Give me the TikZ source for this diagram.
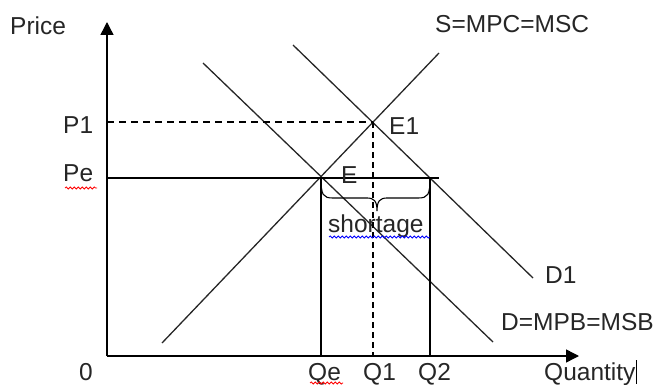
\documentclass[tikz,border=0pt]{standalone}
\usepackage{fontspec}
\setmainfont{Liberation Sans}
\usetikzlibrary{arrows.meta,decorations.pathmorphing}
\begin{document}
\begin{tikzpicture}[x=1pt,y=-1pt,
  curve/.style={line width=1.3pt, draw=black!85},
  axisline/.style={line width=1.4pt, -{Triangle[length=13pt,width=13pt]}},
  guide/.style={line width=1.2pt},
  dashguide/.style={line width=1.1pt, dash pattern=on 7pt off 5pt},
  lbl/.style={inner sep=0pt, anchor=base west, font=\fontsize{24.5}{28}\selectfont, text=black!85},
  squig/.style={line width=0.8pt, decorate, decoration={snake, amplitude=1pt, segment length=4pt}}]
\useasboundingbox (0,0) rectangle (666,385);
% key points
\coordinate (O) at (107,356);
\coordinate (Ytop) at (107,22);
\coordinate (Xend) at (579,356);
\coordinate (E) at (321,178);
\coordinate (E1) at (373,122);
\coordinate (PeL) at (107,178);
\coordinate (PeR) at (439,178);
\coordinate (P1L) at (107,122);
\coordinate (Qe) at (321,356);
\coordinate (Q1) at (373,356);
\coordinate (Q2) at (430,356);
\coordinate (Q2top) at (430,178);
\coordinate (Sa) at (162,343);
\coordinate (Sb) at (439,53);
\coordinate (Da) at (203,63);
\coordinate (Db) at (493,342);
\coordinate (D1a) at (293,45);
\coordinate (D1b) at (533,278);
\coordinate (tip) at (377,211);
% axes
\draw[axisline] (O) -- (Ytop);
\draw[axisline] (O) -- (Xend);
% curves
\draw[curve] (Sa) -- (Sb);
\draw[curve] (Da) -- (Db);
\draw[curve] (D1a) -- (D1b);
% guides
\draw[guide] (PeL) -- (PeR);
\draw[dashguide] (P1L) -- (E1);
\draw[line width=1.1pt, dash pattern=on 6pt off 4pt] (E1) -- (Q1);
\draw[guide] (E) -- (Qe);
\draw[guide] (Q2top) -- (Q2);
% brace
\draw[line width=1.1pt] (E) .. controls (321,195) and (323,198) .. (333,198) -- (367,198)
  .. controls (374,198) and (377,201) .. (tip)
  .. controls (377,201) and (380,198) .. (387,198) -- (418,198)
  .. controls (428,198) and (430,195) .. (Q2top);
% labels
\node[lbl] (price) at (10,35) {Price};
\node[lbl] (p1) at (63,134) {P1};
\node[lbl] (pe) at (63,181) {Pe};
\node[lbl] (zero) at (79,380) {0};
\node[lbl] (qe) at (308,380) {Qe};
\node[lbl] (q1) at (363,380) {Q1};
\node[lbl] (q2) at (418,380) {Q2};
\node[lbl] (qty) at (544,380) {Quantity};
\node[lbl] (slbl) at (435,33) {S=MPC=MSC};
\node[lbl] (d1lbl) at (545,283) {D1};
\node[lbl] (dlbl) at (501,330) {D=MPB=MSB};
\node[lbl] (e1lbl) at (389,135) {E1};
\node[lbl] (elbl) at (341,183) {E};
\node[lbl] (short) at (328,232) {shortage};
% spell-check marks and cursor
\draw[squig, red] (pe.base west) ++(2,7) -- ++(32,0);
\draw[squig, red] (qe.base west) ++(2,3) -- ++(33,0);
\draw[squig, blue] (short.base west) ++(1,5) -- ++(101,0);
\draw[line width=1pt] (qty.base east) ++(1,-20) -- ++(0,24);
\end{tikzpicture}
\end{document}
